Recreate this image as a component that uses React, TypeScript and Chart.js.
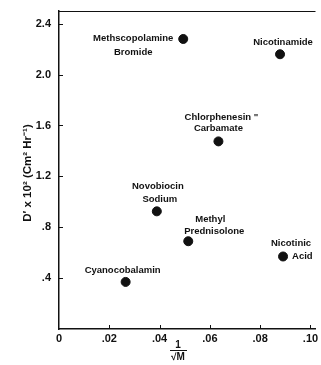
import React, { useEffect, useRef } from "react";
import { Chart, registerables } from "chart.js";

Chart.register(...registerables);

// ---- data ----
const compounds = [
  "Methscopolamine\nBromide",
  "Nicotinamide",
  'Chlorphenesin "\nCarbamate',
  "Novobiocin\nSodium",
  "Methyl\nPrednisolone",
  "Nicotinic\nAcid",
  "Cyanocobalamin",
];
const invSqrtM = [0.0494, 0.0879, 0.0634, 0.0389, 0.0514, 0.0891, 0.0265];
const diffusivity = [2.28, 2.16, 1.475, 0.925, 0.69, 0.57, 0.37];

const xTicks = [0, 0.02, 0.04, 0.06, 0.08, 0.1];
const xTickLabels = ["0", ".02", ".04", ".06", ".08", ".10"];
const yTicks = [0.4, 0.8, 1.2, 1.6, 2.0, 2.4];
const yTickLabels = [".4", ".8", "1.2", "1.6", "2.0", "2.4"];

const yTitle = "D\u2032 x 10\u00B2 (Cm\u00B2 Hr\u207B\u00B9)";

// ---- label placement (pixel offsets from each point, per line) ----
const labelPlacement: [number, number, CanvasTextAlign][][] = [
  [[-50, -1, "center"], [-50, 13, "center"]],
  [[3, -12, "center"]],
  [[3, -24, "center"], [0, -13, "center"]],
  [[1, -25, "center"], [3, -12, "center"]],
  [[22, -22, "center"], [26, -10, "center"]],
  [[8, -13, "center"], [9, 0, "left"]],
  [[-3, -12, "center"]],
];

const FONT = "'Liberation Sans', Arial, sans-serif";

const overlay = {
  id: "overlay",
  afterDraw(chart: any) {
    const { ctx, chartArea, scales } = chart;
    const xs = scales.x;
    const ys = scales.y;
    ctx.save();
    ctx.strokeStyle = "#111";
    ctx.lineWidth = 1;
    ctx.beginPath();
    ctx.moveTo(chartArea.left, chartArea.top + 0.5);
    ctx.lineTo(chartArea.right, chartArea.top + 0.5);
    yTicks.forEach((v) => {
      const y = Math.round(ys.getPixelForValue(v)) + 0.5;
      ctx.moveTo(chartArea.left, y);
      ctx.lineTo(chartArea.left + 4, y);
    });
    xTicks.forEach((v, i) => {
      if (i === 0) return;
      const x = Math.round(xs.getPixelForValue(v)) + 0.5;
      ctx.moveTo(x, chartArea.bottom);
      ctx.lineTo(x, chartArea.bottom - 4);
    });
    ctx.stroke();

    // point labels
    const meta = chart.getDatasetMeta(0);
    ctx.fillStyle = "#111";
    ctx.font = "bold 9.5px " + FONT;
    ctx.textBaseline = "middle";
    compounds.forEach((name, i) => {
      const pt = meta.data[i];
      const lines = name.split("\n");
      lines.forEach((line, j) => {
        const [dx, dy, align] = labelPlacement[i][j];
        ctx.textAlign = align;
        ctx.fillText(line, pt.x + dx, pt.y + dy);
      });
    });

    // y title
    ctx.save();
    ctx.translate(28, 173);
    ctx.rotate(-Math.PI / 2);
    ctx.textAlign = "center";
    ctx.textBaseline = "middle";
    ctx.font = "bold 11.5px " + FONT;
    ctx.fillText(yTitle, 0, 0);
    ctx.restore();

    // x title: 1 / sqrt(M)
    ctx.textAlign = "center";
    ctx.textBaseline = "middle";
    ctx.font = "bold 10px " + FONT;
    ctx.fillText("1", 178, 345);
    ctx.beginPath();
    ctx.moveTo(170, 350.5);
    ctx.lineTo(187, 350.5);
    ctx.stroke();
    ctx.fillText("\u221AM", 178, 357.5);
    ctx.restore();
  },
};

export default function App() {
  const ref = useRef<HTMLCanvasElement | null>(null);
  useEffect(() => {
    if (!ref.current) return;
    const chart = new Chart(ref.current, {
      type: "scatter",
      data: {
        datasets: [
          {
            data: invSqrtM.map((x, i) => ({ x, y: diffusivity[i] })),
            backgroundColor: "#111",
            borderColor: "#111",
            pointRadius: 4.5,
            pointHoverRadius: 4.5,
          },
        ],
      },
      options: {
        animation: false,
        responsive: false,
        devicePixelRatio: 1,
        layout: { padding: { top: 11, left: 0, right: 0, bottom: 0 } },
        plugins: { legend: { display: false }, tooltip: { enabled: false } },
        scales: {
          x: {
            type: "linear",
            min: 0,
            max: 0.102,
            afterBuildTicks: (s: any) => {
              s.ticks = xTicks.map((value) => ({ value }));
            },
            afterFit: (s: any) => {
              s.height = 36;
              s.paddingLeft = 0;
              s.paddingRight = 0;
            },
            grid: { display: false, drawTicks: false },
            border: { display: true, color: "#111", width: 1.5 },
            ticks: {
              autoSkip: false,
              maxRotation: 0,
              padding: 3,
              color: "#111",
              font: { family: FONT, size: 11, weight: "bold" },
              callback: (_v: any, i: number) => xTickLabels[i],
            },
          },
          y: {
            type: "linear",
            min: 0,
            max: 2.5,
            afterBuildTicks: (s: any) => {
              s.ticks = yTicks.map((value) => ({ value }));
            },
            afterFit: (s: any) => {
              s.width = 59;
              s.paddingTop = 0;
              s.paddingBottom = 0;
            },
            grid: { display: false, drawTicks: false },
            border: { display: true, color: "#111", width: 1.5 },
            ticks: {
              autoSkip: false,
              padding: 8,
              color: "#111",
              font: { family: FONT, size: 11, weight: "bold" },
              callback: (_v: any, i: number) => yTickLabels[i],
            },
          },
        },
      },
      plugins: [overlay],
    });
    return () => chart.destroy();
  }, []);
  return (
    <div style={{ position: "fixed", left: 0, top: 0, width: 321, height: 365, background: "#fff" }}>
      <canvas ref={ref} width={321} height={365} />
    </div>
  );
}
